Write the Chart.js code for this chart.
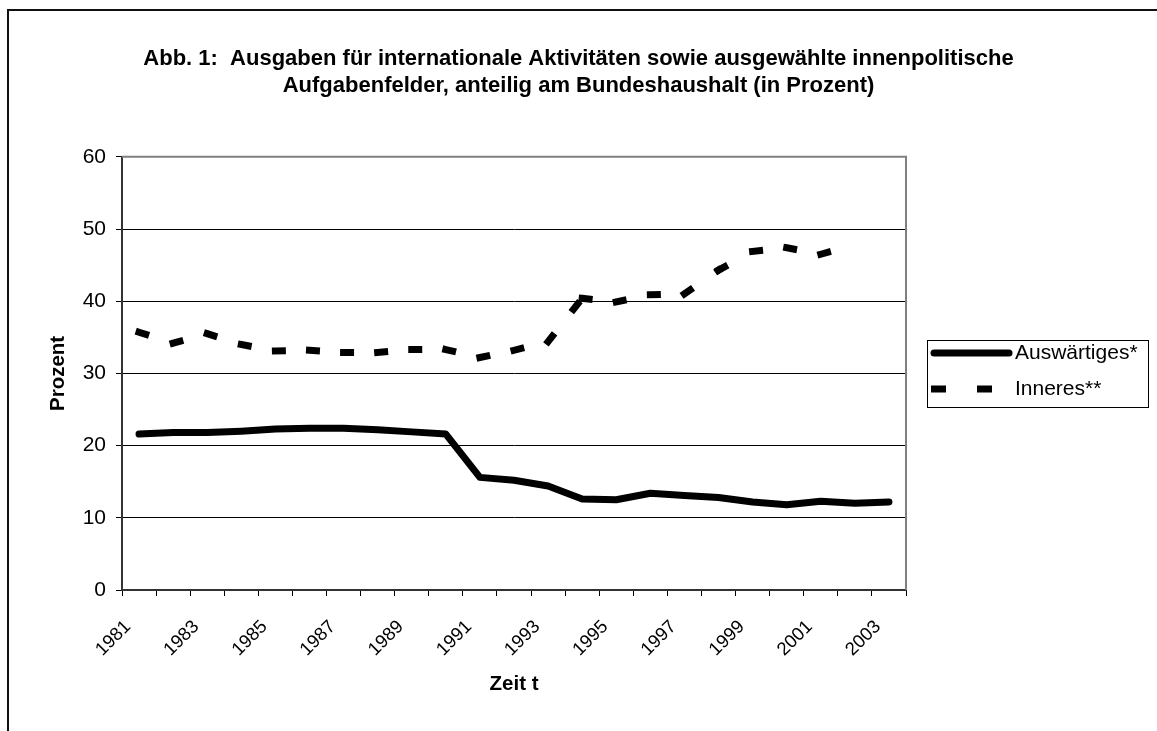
<!DOCTYPE html>
<html>
<head>
<meta charset="utf-8">
<script src="https://cdn.jsdelivr.net/npm/chart.js@4"></script>
<style>
  body { margin: 0; background: #fff; }
  #wrap { position: relative; width: 1157px; height: 731px; overflow: hidden; }
  #frame { position: absolute; left: 7px; top: 9px; width: 1200px; height: 800px;
           border-left: 2px solid #111; border-top: 2px solid #111; }
  #chart { position: absolute; left: 0; top: 0; }
</style>
</head>
<body>
<div id="wrap">
  <div id="frame"></div>
  <canvas id="chart" width="1157" height="731"></canvas>
</div>
<script>
// Jahre (Kategorien)
const years = ['1981', '1982', '1983', '1984', '1985', '1986', '1987', '1988', '1989', '1990',
  '1991', '1992', '1993', '1994', '1995', '1996', '1997', '1998', '1999', '2000',
  '2001', '2002', '2003'];

// beschriftete Jahre auf der x-Achse
const yearLabels = ['1981', '1983', '1985', '1987', '1989', '1991', '1993', '1995', '1997',
  '1999', '2001', '2003'];

// Anteil am Bundeshaushalt in Prozent
const auswaertiges = [21.6, 21.8, 21.8, 22.0, 22.3, 22.4, 22.4, 22.2, 21.9, 21.6,
  15.6, 15.2, 14.4, 12.6, 12.5, 13.4, 13.1, 12.8, 12.2, 11.8, 12.3, 12.0, 12.2];

const inneres = [35.7, 34.2, 35.5, 34.0, 33.1, 33.2, 32.9, 32.9, 33.3, 33.3,
  32.2, 33.2, 34.4, 40.4, 39.9, 40.9, 41.0, 44.3, 46.9, 47.4, 46.5, 47.8, null];

// y-Achse
const yTicks = [0, 10, 20, 30, 40, 50, 60];

const FONT = "'Liberation Sans', Arial, sans-serif";

// grauer Rahmen oben/rechts um die Zeichenfläche
const plotFrame = {
  id: 'plotFrame',
  beforeDatasetsDraw(chart) {
    const { ctx, chartArea: a } = chart;
    ctx.save();
    ctx.strokeStyle = '#808080';
    ctx.lineWidth = 2;
    ctx.beginPath();
    ctx.moveTo(a.left, a.top);
    ctx.lineTo(a.right, a.top);
    ctx.lineTo(a.right, a.bottom);
    ctx.stroke();
    ctx.restore();
  }
};

// Legende im Kasten rechts
const boxLegend = {
  id: 'boxLegend',
  afterDraw(chart) {
    const ctx = chart.ctx;
    const ds = chart.data.datasets;
    ctx.save();
    ctx.strokeStyle = '#000';
    ctx.lineWidth = 1;
    ctx.strokeRect(927.5, 340.5, 221, 67);

    const rows = [353, 389];
    ds.forEach((d, i) => {
      const y = rows[i];
      ctx.strokeStyle = d.borderColor;
      ctx.lineWidth = d.borderWidth;
      ctx.beginPath();
      if (d.borderDash) {
        ctx.lineCap = 'butt';
        ctx.setLineDash([15, 31]);
        ctx.moveTo(931, y);
        ctx.lineTo(992, y);
      } else {
        ctx.lineCap = 'round';
        ctx.setLineDash([]);
        ctx.moveTo(934, y);
        ctx.lineTo(1009, y);
      }
      ctx.stroke();
      ctx.setLineDash([]);
      ctx.fillStyle = '#000';
      ctx.font = '21px ' + FONT;
      ctx.textAlign = 'left';
      ctx.textBaseline = 'middle';
      ctx.fillText(d.label, 1015, y);
    });
    ctx.restore();
  }
};

new Chart(document.getElementById('chart'), {
  type: 'line',
  data: {
    labels: years,
    datasets: [
      {
        label: 'Auswärtiges*',
        data: auswaertiges,
        borderColor: '#000',
        borderWidth: 7,
        borderCapStyle: 'round',
        borderJoinStyle: 'round',
        pointRadius: 0,
        tension: 0,
        fill: false
      },
      {
        label: 'Inneres**',
        data: inneres,
        borderColor: '#000',
        borderWidth: 7,
        borderDash: [7, 34],
        borderCapStyle: 'square',
        borderJoinStyle: 'miter',
        pointRadius: 0,
        tension: 0,
        fill: false,
        // jedes Teilstück einzeln zeichnen, damit das Strichmuster am Datenpunkt neu beginnt
        segment: { borderDashOffset: ctx => (ctx.p0DataIndex % 2) * 0.001 }
      }
    ]
  },
  options: {
    responsive: false,
    animation: false,
    devicePixelRatio: 1,
    layout: { padding: 0 },
    plugins: {
      legend: { display: false },
      tooltip: { enabled: false },
      title: {
        display: true,
        text: ['Abb. 1:  Ausgaben für internationale Aktivitäten sowie ausgewählte innenpolitische',
               'Aufgabenfelder, anteilig am Bundeshaushalt (in Prozent)'],
        color: '#000',
        font: { family: FONT, size: 22, weight: 'bold', lineHeight: 1.2 },
        padding: { top: 46, bottom: 58 }
      }
    },
    scales: {
      x: {
        offset: true,
        grid: { display: true, offset: true, drawOnChartArea: false, drawTicks: true,
                tickLength: 6, color: '#000', lineWidth: 1 },
        border: { display: true, color: '#333', width: 2 },
        ticks: {
          autoSkip: false,
          maxRotation: 45,
          minRotation: 45,
          padding: 20,
          labelOffset: -11,
          color: '#000',
          font: { family: FONT, size: 18.5 },
          callback: function(value) {
            const y = this.getLabelForValue(value);
            return yearLabels.includes(y) ? y : '';
          }
        },
        title: {
          display: true,
          text: 'Zeit t',
          color: '#000',
          font: { family: FONT, size: 20.5, weight: 'bold', lineHeight: 1.2 },
          padding: { top: 0, bottom: 34 }
        },
        afterFit(scale) { scale.height = 141; }
      },
      y: {
        min: 0,
        max: 60,
        afterBuildTicks(scale) { scale.ticks = yTicks.map(v => ({ value: v })); },
        grid: {
          color: ctx => (ctx.tick && ctx.tick.value === 60) ? 'rgba(0,0,0,0)' : '#000',
          tickColor: '#000',
          lineWidth: 1,
          drawTicks: true,
          tickLength: 6
        },
        border: { display: true, color: '#333', width: 2 },
        ticks: {
          padding: 10,
          color: '#000',
          font: { family: FONT, size: 21 }
        },
        title: {
          display: true,
          text: 'Prozent',
          color: '#000',
          font: { family: FONT, size: 20.5, weight: 'bold', lineHeight: 1.2 },
          padding: { top: 46, bottom: 0 }
        },
        afterFit(scale) { scale.width = 122; }
      },
      // leere Achse rechts: Platz für die Legende
      rechts: {
        type: 'linear',
        position: 'right',
        display: true,
        grid: { display: false },
        border: { display: false },
        ticks: { display: false },
        afterFit(scale) { scale.width = 251; }
      }
    }
  },
  plugins: [plotFrame, boxLegend]
});
</script>
</body>
</html>
